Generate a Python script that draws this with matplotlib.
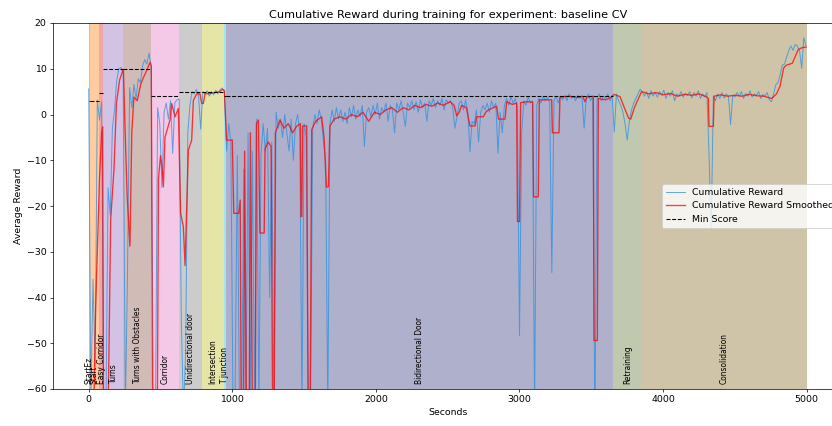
import numpy as np
import matplotlib.pyplot as plt

# episode reward, logged every 15 seconds
sample_interval = 15
reward = [
    5.6, -62, -36, -55, 3.2, -1.2, 2.8, -65, -65, -16,
    -22, -3, 1.0, 7.5, 10.0, 10.3, 9.0, -65, -35, 5.9,
    1.5, 6.6, 3.5, 7.8, 7.0, 10.6, 12.0, 11.0, 13.4, 10.5,
    -65, -65, 1.5, -2.0, -16, 0.5, 2.5, -1.0, 3.0, -8.5,
    2.6, 3.2, 3.4, -45, -65, -52, -4, 2.0, 5.0, 4.5,
    5.5, 4.0, -3.2, 5.0, 4.5, 5.2, 4.0, 5.0, 4.3, 5.3,
    4.5, 5.4, 5.8, 5.0, -8, -2, -6, -65, -60, -9,
    -65, -65, -12, -65, -4, -65, -8, -65, -1, -65,
    -9, -2, -8, -3, -40, -6, -65, 0.5, -3, -1,
    -5, 0, -4, -8, -1, -10, -2, 0, -4, -65,
    -2, -5, -65, -65, -3, 0, -2, 1, -1, -6,
    -10, -65, -2, 1, -1.5, 1.5, -1, 1.0, -1.5, 0.5,
    -2.0, 1.5, -0.5, 2.0, -1.0, 1.0, -0.5, 2.0, -7.0, 0.5,
    1.5, -0.5, 2.0, 0.0, 2.5, -1.0, 1.5, 0.5, 2.5, -1.5,
    2.0, 1.0, -4.0, 2.5, 1.0, 3.0, 0.5, -2.6, 2.5, 1.5,
    3.0, 1.0, 2.8, 0.5, 3.2, 1.5, 2.5, -1.5, 3.0, 2.0,
    3.5, 1.5, 3.0, 2.0, 3.5, 1.0, 3.2, 2.5, 3.0, 1.5,
    -3.0, -0.5, 2.5, 3.0, 1.0, 3.2, 0.5, -8.1, -1.5, -2.0,
    1.0, -6.0, 0.5, 2.0, 1.0, 2.5, 0.5, 3.0, 1.5, 2.5,
    -8.5, 0.5, -4.0, 2.0, 3.5, 2.0, 4.0, 2.5, 3.5, 1.5,
    -48.3, -4.0, 3.0, 2.0, 3.8, 2.5, 3.0, -65, 2.0, 3.5,
    2.5, 4.0, 3.0, 3.8, 2.5, -34.6, 3.0, 4.0, 2.5, 4.0,
    3.2, 4.2, 3.0, 4.5, 3.5, 4.0, 3.0, 4.2, 3.5, 4.0,
    -3.0, 3.5, 4.5, 3.0, 4.0, -70, 3.5, 4.5, 3.0, 4.0,
    3.5, 4.5, 3.0, 4.2, -3.8, 4.5, 3.0, 2.0, 0.5, -2.0,
    -5.6, -1.5, 1.0, 2.5, 3.5, 4.5, 5.5, 5.0, 4.0, 5.0,
    3.5, 5.2, 4.0, 4.8, 3.8, 5.0, 4.2, 5.3, 3.5, 4.8,
    4.0, 5.2, 3.0, 4.5, 4.0, 5.0, 3.8, 4.6, 4.2, 5.0,
    3.6, 4.8, 4.0, 5.2, 3.5, 4.5, 3.8, 4.8, -9.0, -25.0,
    4.0, 3.0, 4.5, 3.5, 4.8, 3.6, 4.5, 4.0, -2.2, 4.2,
    3.8, 4.8, 4.0, 5.0, 3.5, 4.6, 4.0, 5.2, 3.8, 4.5,
    4.2, 5.0, 3.5, 4.4, 4.0, 4.8, 3.2, 2.8, 4.5, 6.5,
    7.0, 8.7, 10.8, 11.0, 12.5, 14.0, 15.0, 14.0, 15.3, 15.0,
    14.0, 10.1, 16.8, 15.0,
]

# smoothed reward
smooth_time = [
    35, 48, 60, 75, 90, 97, 103, 135, 141, 153, 176, 193, 215, 234, 242,
    252, 268, 287, 300, 315, 338, 362, 380, 397, 415, 428, 436, 444, 478, 486,
    500, 512, 520, 531, 566, 578, 601, 624, 640, 659, 671, 694, 717, 729, 752,
    775, 787, 798, 810, 850, 880, 910, 933, 945, 960, 1000, 1010, 1045, 1055, 1062,
    1078, 1086, 1098, 1118, 1126, 1140, 1160, 1168, 1182, 1192, 1222, 1228, 1250, 1270, 1281,
    1292, 1300, 1332, 1360, 1390, 1420, 1450, 1474, 1478, 1484, 1490, 1518, 1528, 1542, 1553,
    1580, 1610, 1622, 1639, 1655, 1669, 1680, 1710, 1750, 1790, 1830, 1870, 1910, 1950, 1990,
    2030, 2070, 2110, 2150, 2190, 2230, 2270, 2310, 2350, 2390, 2430, 2470, 2517, 2545, 2563,
    2580, 2597, 2630, 2655, 2690, 2702, 2748, 2765, 2783, 2841, 2853, 2899, 2911, 2950, 2980,
    2986, 3000, 3008, 3050, 3092, 3098, 3131, 3138, 3224, 3229, 3275, 3282, 3350, 3400, 3440,
    3456, 3470, 3514, 3519, 3542, 3549, 3600, 3640, 3660, 3700, 3730, 3760, 3775, 3800, 3850,
    3900, 3950, 4000, 4050, 4100, 4150, 4200, 4250, 4300, 4315, 4320, 4350, 4355, 4400, 4450,
    4500, 4550, 4600, 4650, 4700, 4756, 4790, 4814, 4840, 4860, 4900, 4941, 4960, 4980, 4995,
]
smooth_reward = [
    -65, -42.7, -30, -14, -4, -2.7, -65, -65, -52, -23, -12, 2.4, 7.5, 9.3, 9.8,
    -2, -18, -28.8, -4, 3.8, 3.0, 6.6, 8.0, 9.1, 10.5, 11.4, 10.5, -65, -65, -14,
    -9, -12, -15.8, -5, -1.2, 2.4, -0.5, 1.3, -21.6, -24.5, -33, -7.8, -5.6, 3.1, 4.5,
    4.5, 2.4, 2.4, 4.5, 4.6, 4.8, 5.0, 5.5, 5.2, -5.6, -5.6, -21.6, -21.6, -18.7, -65,
    -65, -8, -65, -65, -4, -65, -65, -2, -1.2, -25.9, -25.9, -7.5, -6, -7, -65,
    -65, -4, -1.2, -3, -2, -4, -2.5, -2, -22.3, -22.3, -2.5, -2.5, -65, -65, -3.3,
    -1.5, -0.8, -0.5, -5, -15.8, -15.8, -2.5, -1, -0.5, -1, 0, -0.5, 0.5, -1.5, 0.5,
    0, 1, 1.5, 0.5, 1.5, 1.0, 2.0, 1.5, 2.2, 1.8, 2.5, 2.0, 2.8, 2.0, -0.3,
    0.5, 2.0, 1.5, -2.5, -2.5, -0.5, -0.5, 0.5, 1.0, 1.8, -1.0, -1.0, 2.8, 2.2, 2.5,
    -23.4, -23.4, 2.6, 2.8, 2.7, -18, -18, 3.2, 3.2, -4, -4, 3.8, 4.0, 3.7, 4.0,
    2.8, 3.8, 4.0, -49.4, -49.4, 3.5, 3.2, 3.8, 4.4, 3.9, 1.5, -0.8, -1.0, 1.5, 5.0,
    4.5, 4.8, 4.3, 4.6, 4.0, 4.4, 4.2, 4.5, 3.9, 3.5, -2.6, -2.6, 4.0, 4.3, 4.0,
    4.2, 4.0, 4.4, 4.1, 4.0, 3.5, 4.5, 6.2, 10.2, 10.8, 11.2, 14.2, 14.5, 14.7, 14.7,
]

# curriculum stages
stage_names = ["StartEz", "Start", "Easy Corridor", "Turns", "Turns with Obstacles",
               "Corridor", "Unidirectional door", "Intersection", "T junction",
               "Bidirectional Door", "Retraining", "Consolidation"]
stage_start = [0, 6, 74, 98, 242, 434, 632, 792, 942, 956, 3653, 3853]
stage_end = [6, 74, 98, 242, 434, 632, 792, 942, 956, 3653, 3853, 5000]
stage_min_score = [3.0, 3.0, 4.6, 10.0, 10.0, 4.0, 5.0, 5.0, 4.0, 4.0, None, None]
stage_colors = ["#a6c9e2", "#ffcc9f", "#eea8a9", "#d4c2e5", "#d1bbb7", "#f4c9e7",
                "#cccccc", "#e4e5a7", "#a2e5ec", "#aeb0cc", "#c0c8b0", "#d0c4a8"]

plt.rcParams['font.size'] = 10.56

dpi = 64
fig = plt.figure(figsize=(832 / dpi, 426 / dpi), dpi=dpi)
ax = fig.add_axes([52.8 / 832, 37 / 426, 789.8 / 832, 366 / 426])

for name, start, end, color in zip(stage_names, stage_start, stage_end, stage_colors):
    ax.axvspan(start, end, color=color, lw=0, zorder=0)
    ax.text((start + end) / 2, -59, name, rotation=90, ha='center', va='bottom', fontsize=8.5)

time = np.arange(len(reward)) * sample_interval
ax.plot(time, reward, color='#2a8fe0', lw=1.1, alpha=0.75, label='Cumulative Reward')
ax.plot(smooth_time, smooth_reward, color='red', lw=1.5, alpha=0.75, label='Cumulative Reward Smoothed')

first = True
for start, end, score in zip(stage_start, stage_end, stage_min_score):
    if score is None:
        continue
    ax.hlines(score, start, end, colors='black', linestyles='--', lw=1.2,
              label='Min Score' if first else '_nolegend_')
    first = False

ax.set_xlim(-250, 5250)
ax.set_ylim(-60, 20)
ax.set_xticks([0, 1000, 2000, 3000, 4000, 5000])
ax.set_title('Cumulative Reward during training for experiment: baseline CV')
ax.set_xlabel('Seconds')
ax.set_ylabel('Average Reward')
ax.legend(loc='center right')

fig.savefig('out.png', dpi=dpi)
